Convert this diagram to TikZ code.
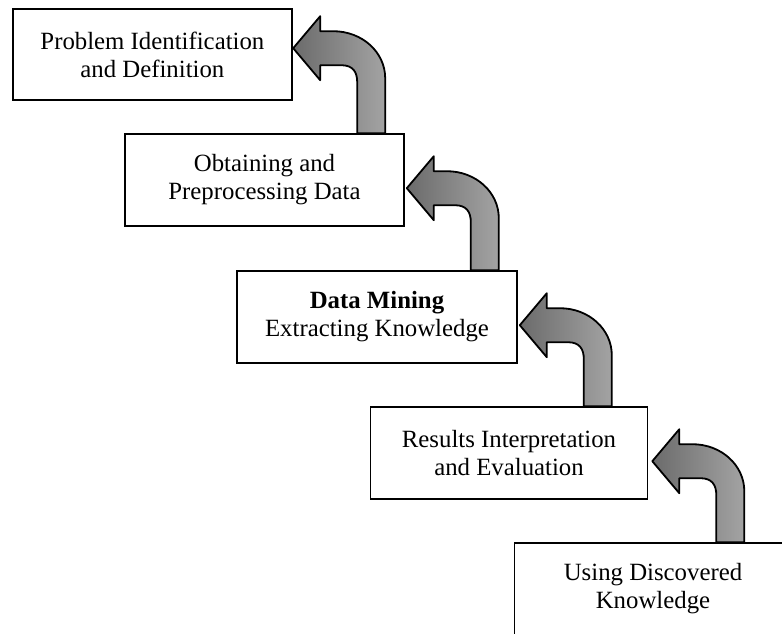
\documentclass[tikz,border=0pt]{standalone}
\usepackage{fontspec}
\setmainfont{Liberation Serif}
\usetikzlibrary{calc}

% Bent block arrow: #1 = tip (points left at a box), #2 = box whose top the stem stands on
\newcommand\bentflow[2]{%
  \begin{scope}[shift={(#1)}]
    \path[flowstyle]
      (0,0) -- (27,-32) -- (27,-17) -- (40,-17)
      .. controls (69,-17) and (92,4) .. (92,30)
      -- (92,0 |- #2.north) -- (64,0 |- #2.north) -- (64,34)
      .. controls (64,24) and (60,17) .. (48,17)
      -- (27,17) -- (27,32) -- cycle;
  \end{scope}}

\begin{document}
\begin{tikzpicture}[x=1pt,y=-1pt,
    stage/.style={draw=black, line width=1.6pt, fill=white, align=center,
      minimum height=92pt, inner sep=0pt,
      font=\fontsize{24.8}{28}\selectfont},
    flowstyle/.style={draw=black, line width=1.8pt, line join=round,
      left color=black!58, right color=black!36}]
  \useasboundingbox (0,0) rectangle (782,633);
  \clip (0,0) rectangle (782,633);

  \node[stage, minimum width=279pt, minimum height=91pt] (b1) at (152.4,54.5)
    {Problem Identification\\and Definition};
  \node[stage, minimum width=279pt] (b2) at (264.5,180)
    {Obtaining and\\Preprocessing Data};
  \node[stage, minimum width=280pt] (b3) at (377,317)
    {\textbf{Data Mining}\\Extracting Knowledge};
  \node[stage, minimum width=277pt] (b4) at (509,453)
    {Results Interpretation\\and Evaluation};
  \node[stage, minimum width=277pt] (b5) at (653,589)
    {Using Discovered\\Knowledge};

  \coordinate (t1) at ($(b1.north east)+(0.5,40)$);
  \coordinate (t2) at ($(b2.north east)+(2,55)$);
  \coordinate (t3) at ($(b3.north east)+(2,55)$);
  \coordinate (t4) at ($(b4.north east)+(4,55)$);

  \bentflow{t1}{b2}
  \bentflow{t2}{b3}
  \bentflow{t3}{b4}
  \bentflow{t4}{b5}
\end{tikzpicture}
\end{document}
